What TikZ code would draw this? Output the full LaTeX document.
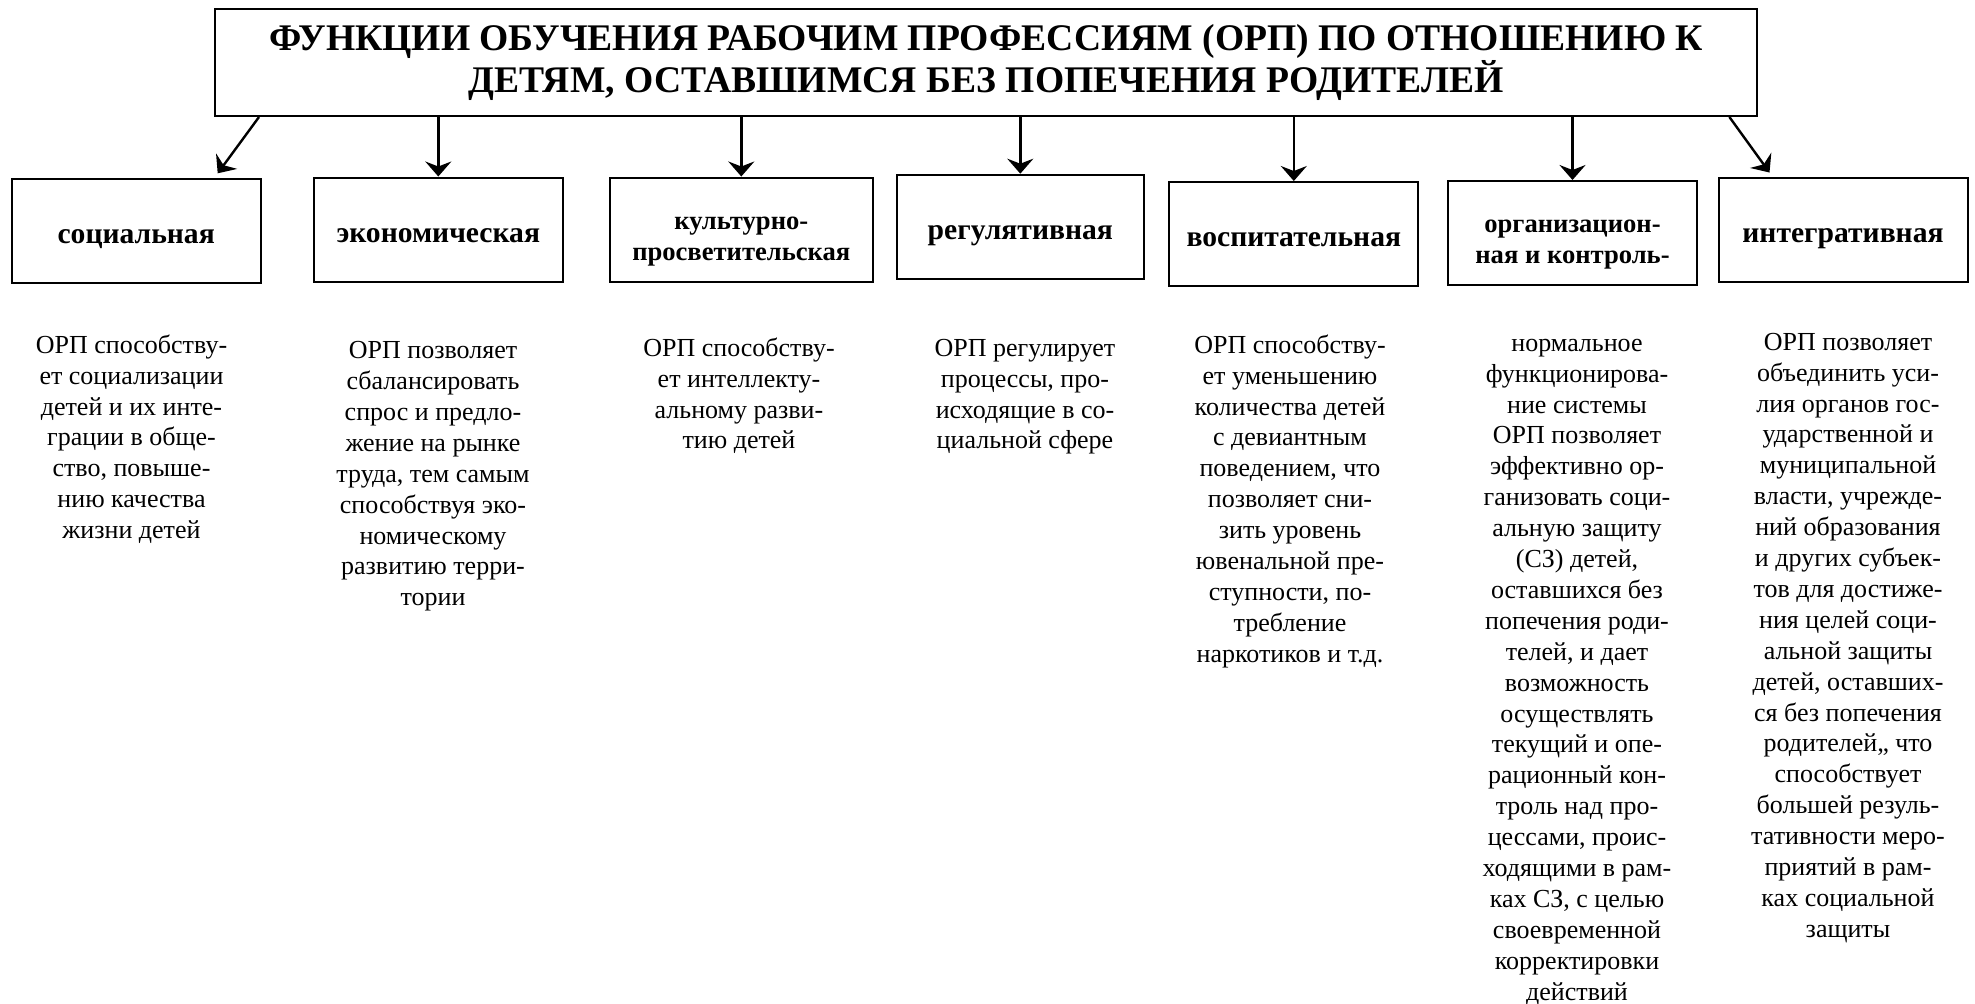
\documentclass[tikz,border=0pt]{standalone}
\usepackage{fontspec}
\setmainfont{Liberation Serif}
\usetikzlibrary{arrows.meta}

\begin{document}
\begin{tikzpicture}[x=0.5pt, y=-0.5pt, line width=1pt,
	arrow/.style={line width=1.2pt, -{Stealth[length=7.5pt, width=13pt, inset=2.5pt]}},
	head/.style={draw, minimum width=124.5pt, minimum height=52pt, inner sep=0pt, align=center,
		font=\bfseries\fontsize{14.8pt}{15.35pt}\selectfont, text height=12.5pt, text depth=0pt},
	two/.style={font=\bfseries\fontsize{13.3pt}{15.35pt}\selectfont, text height=30.5pt, text depth=0pt},
	body/.style={anchor=north, inner sep=0pt, align=center, font=\fontsize{13pt}{15.45pt}\selectfont}]
	\useasboundingbox (0,0) rectangle (1975,1003);

	% title
	\node[draw, minimum width=771pt, minimum height=53.3pt, inner sep=0pt, align=center,
		font=\bfseries\fontsize{18.8pt}{19.5pt}\selectfont] (title) at (986,62.7)
		{ФУНКЦИИ ОБУЧЕНИЯ РАБОЧИМ ПРОФЕССИЯМ (ОРП) ПО ОТНОШЕНИЮ К\\ДЕТЯМ, ОСТАВШИМСЯ БЕЗ ПОПЕЧЕНИЯ РОДИТЕЛЕЙ};

	% functions
	\node[head] (soc) at (136.2,231.3) {социальная};
	\node[head] (eco) at (438.3,229.5) {экономическая};
	\node[head, two, minimum width=131.4pt] (cult) at (741.3,229.5) {культурно-\\просветительская};
	\node[head, minimum width=123.5pt] (reg) at (1020.3,226.7) {регулятивная};
	\node[head] (edu) at (1293.8,234) {воспитательная};
	\node[head, two] (org) at (1572.5,233) {организацион-\\ная и контроль-};
	\node[head] (integ) at (1843,229.5) {интегративная};

	\draw[arrow] ([xshift=22.5pt]title.south west) -- ([xshift=-22pt,yshift=2.5pt]soc.north east);
	\draw[arrow] (title.south -| eco.north) -- (eco.north);
	\draw[arrow] (title.south -| cult.north) -- (cult.north);
	\draw[arrow] (title.south -| reg.north) -- (reg.north);
	\draw[arrow] (title.south -| edu.north) -- (edu.north);
	\draw[arrow] (title.south -| org.north) -- (org.north);
	\draw[arrow] ([xshift=-14.3pt]title.south east) -- ([xshift=26pt,yshift=2pt]integ.north west);

	% descriptions
	\node[body] (tsoc) at (131.5,330.6) {\strut ОРП способству-\\ет социализации\\детей и их инте-\\грации в обще-\\ство, повыше-\\нию качества\\жизни детей};
	\node[body] (teco) at (433,336) {\strut ОРП позволяет\\сбалансировать\\спрос и предло-\\жение на рынке\\труда, тем самым\\способствуя эко-\\номическому\\развитию терри-\\тории};
	\node[body] (tcult) at (739,333.6) {\strut ОРП способству-\\ет интеллекту-\\альному разви-\\тию детей};
	\node[body] (treg) at (1025,333.6) {\strut ОРП регулирует\\процессы, про-\\исходящие в со-\\циальной сфере};
	\node[body] (tedu) at (1290,330.6) {\strut ОРП способству-\\ет уменьшению\\количества детей\\с девиантным\\поведением, что\\позволяет сни-\\зить уровень\\ювенальной пре-\\ступности, по-\\требление\\наркотиков и т.д.};
	\node[body] (torg) at (1577,328.6) {\strut нормальное\\функционирова-\\ние системы\\ОРП позволяет\\эффективно ор-\\ганизовать соци-\\альную защиту\\(СЗ) детей,\\оставшихся без\\попечения роди-\\телей, и дает\\возможность\\осуществлять\\текущий и опе-\\рационный кон-\\троль над про-\\цессами, проис-\\ходящими в рам-\\ках СЗ, с целью\\своевременной\\корректировки\\действий};
	\node[body] (tinteg) at (1848,327.6) {\strut ОРП позволяет\\объединить уси-\\лия органов гос-\\ударственной и\\муниципальной\\власти, учрежде-\\ний образования\\и других субъек-\\тов для достиже-\\ния целей соци-\\альной защиты\\детей, оставших-\\ся без попечения\\родителей,, что\\способствует\\большей резуль-\\тативности меро-\\приятий в рам-\\ках социальной\\защиты};
\end{tikzpicture}
\end{document}
